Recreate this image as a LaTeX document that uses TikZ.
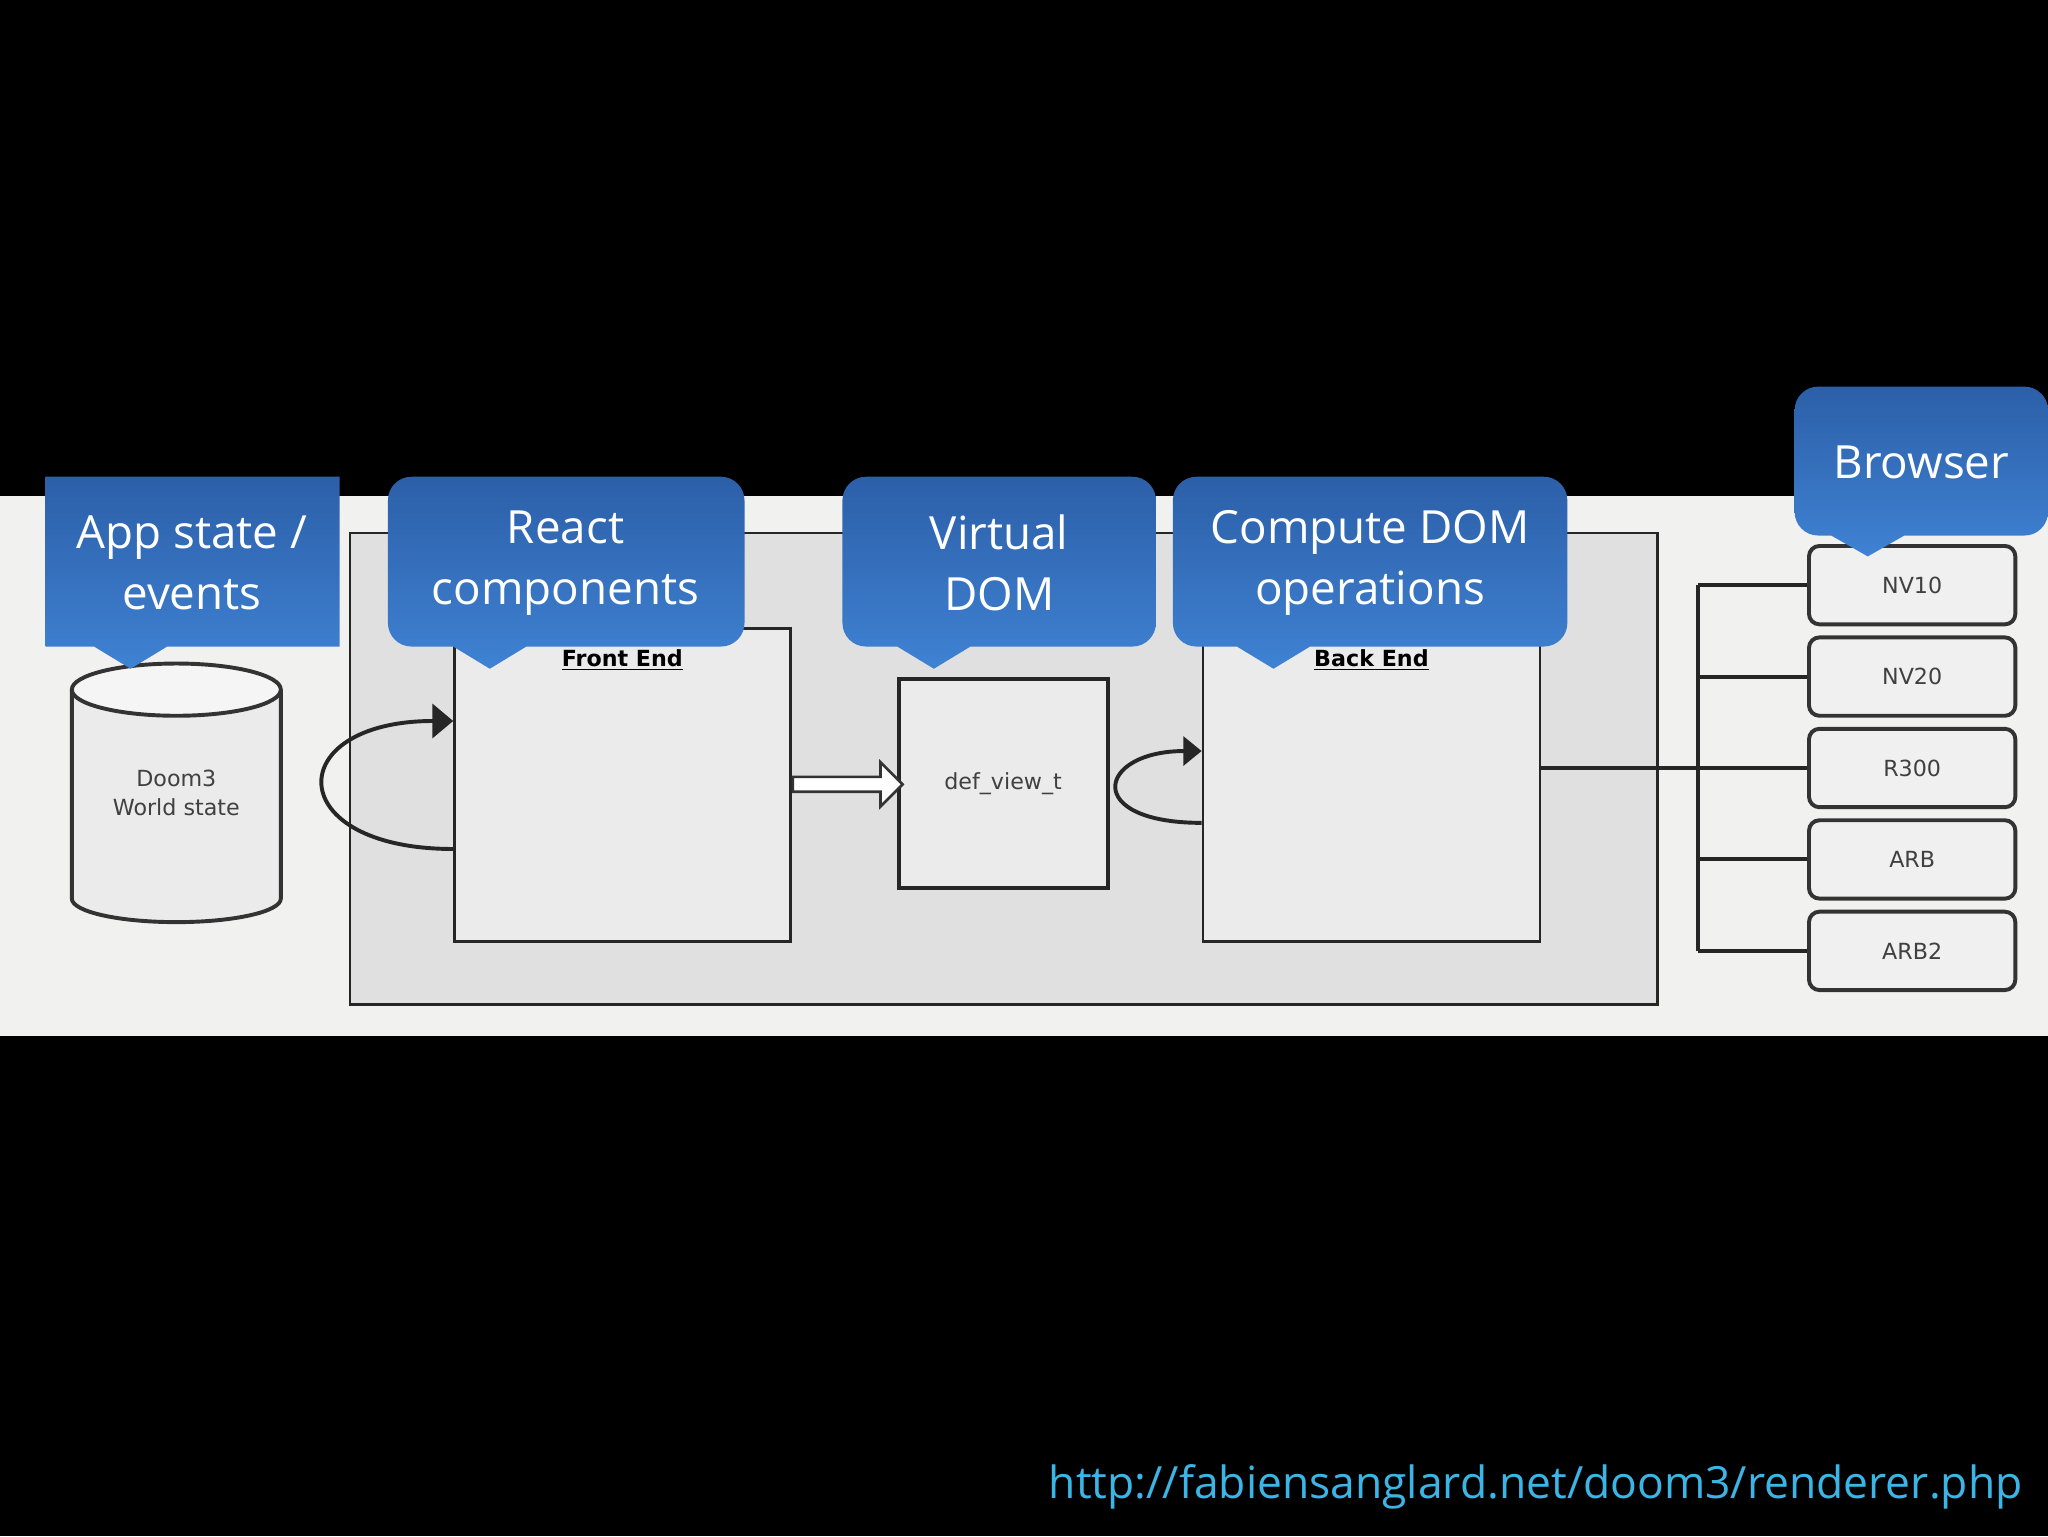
\documentclass[tikz,border=0pt]{standalone}
\usepackage{fontspec}
\setmainfont{Open Sans}
\newfontfamily\diagfont{DejaVu Sans}
\usetikzlibrary{positioning,arrows.meta,shapes.arrows,calc}

\definecolor{bandgray}{HTML}{F1F1EF}
\definecolor{calltop}{HTML}{3F82D3}
\definecolor{callbot}{HTML}{2C5FA8}
\definecolor{urlcyan}{HTML}{3BB4E6}

\newcommand{\callshape}[7]{% x1,y1,x2,y2,pointer x,tip y,radius
    \shade[top color=calltop,bottom color=callbot,shading angle=180]
        [rounded corners=#7] (#1,#2) -- (#3,#2) -- (#3,#4)
        [sharp corners] -- (#5+28,#4) -- (#5,#6) -- (#5-28,#4)
        [rounded corners=#7] -- (#1,#4) -- cycle;
}

\begin{document}
\begin{tikzpicture}[
    x=1pt, y=-1pt,
    box/.style={
        draw=black!85,
        line width=2pt,
        fill=black!8,
        anchor=north west,
        inner sep=0pt,
    },
    gear/.style={
        draw=black!80,
        line width=3pt,
        rounded corners=8pt,
        fill=black!6,
        minimum width=158pt,
        minimum height=60pt,
        font=\diagfont\fontsize{17}{20}\selectfont,
        text=black!75,
    },
    calltext/.style={
        text=white,
        align=center,
        font=\fontsize{35}{47}\selectfont,
    },
    wire/.style={
        line width=3pt,
        draw=black!85,
    },
]
    \fill[black] (0,0) rectangle (1568,1176);
    \fill[bandgray] (0,380) rectangle (1568,793);

    % outer frame and stages
    \node[box,fill=black!12,minimum width=1001pt,minimum height=361pt] (frame) at (267,407) {};
    \node[box,minimum width=257pt,minimum height=240pt] (fe) at (347,480) {};
    \node[box,minimum width=160pt,minimum height=160pt,line width=3pt,
        font=\diagfont\fontsize{17}{20}\selectfont,text=black!75,anchor=center]
        (dv) at (768,600) {def\_view\_t};
    \node[box,minimum width=258pt,minimum height=240pt] (be) at (920,480) {};
    \node[font=\diagfont\bfseries\fontsize{17}{20}\selectfont,below=14pt of fe.north] (felabel) {\underline{Front End}};
    \node[font=\diagfont\bfseries\fontsize{17}{20}\selectfont,below=14pt of be.north] (belabel) {\underline{Back End}};

    % world state cylinder
    \fill[black!8] (55,528) -- (55,688) arc[start angle=180,end angle=360,x radius=80,y radius=-18] -- (215,528) -- cycle;
    \draw[line width=3pt,draw=black!80] (55,528) -- (55,688) arc[start angle=180,end angle=360,x radius=80,y radius=-18] -- (215,528);
    \draw[line width=3pt,draw=black!80,fill=black!4] (135,528) ellipse[x radius=80,y radius=20];
    \node[font=\diagfont\fontsize{17}{22}\selectfont,text=black!75,align=center] (world) at (135,607) {Doom3\\World state};

    % loops and hand-over
    \draw[wire,-{Triangle[length=16pt,width=26pt]}] ([yshift=-170pt]fe.north west)
        .. controls (215,650) and (215,552) .. ([yshift=-72pt]fe.north west);
    \draw[wire,-{Triangle[length=14pt,width=22pt]}] ([yshift=-150pt]be.north west)
        .. controls (828,630) and (840,575) .. ([yshift=-95pt]be.north west);
    \node[single arrow,draw=black!80,line width=2pt,fill=white,minimum height=84pt,
        minimum width=34pt,single arrow head extend=8pt,inner sep=3pt] (handover)
        at ($(fe.east)!0.5!(dv.west)$) {};

    % renderers
    \foreach \name [count=\i] in {NV10,NV20,R300,ARB,ARB2} {
        \node[gear] (r\i) at (1464,378+\i*70) {\name};
    }
    \coordinate (bus) at (1300,588);
    \draw[wire] ([yshift=-108pt]be.north east) -- (r3.west);
    \draw[wire] (r1.west -| bus) -- (r5.west -| bus);
    \foreach \i in {1,2,4,5} {
        \draw[wire] (r\i.west -| bus) -- (r\i.west);
    }

    % callouts
    \callshape{35}{365}{260}{495}{100}{512}{0pt}
    \callshape{297}{365}{570}{495}{375}{512}{18pt}
    \callshape{645}{365}{885}{495}{715}{512}{18pt}
    \callshape{898}{365}{1200}{495}{975}{512}{18pt}
    \callshape{1374}{296}{1568}{410}{1430}{426}{18pt}
    \node[calltext] (appstate) at (147,431) {App state /\\events};
    \node[calltext] (react) at (433,431) {React\\components};
    \node[calltext] (vdom) at (765,431) {Virtual\\DOM};
    \node[calltext] (compute) at (1049,431) {Compute DOM\\operations};
    \node[calltext] (browser) at (1471,354) {Browser};

    \node[text=urlcyan,font=\fontsize{34}{40}\selectfont,anchor=east] (url) at (1552,1138)
        {http://fabiensanglard.net/doom3/renderer.php};
\end{tikzpicture}
\end{document}
